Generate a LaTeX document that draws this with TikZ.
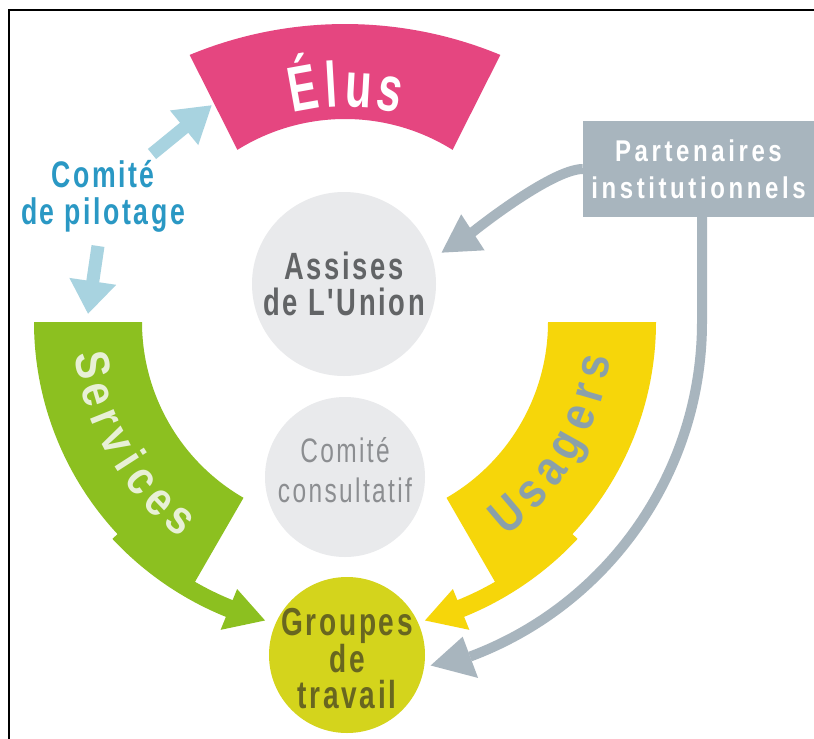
\documentclass[tikz,border=0pt]{standalone}
\usepackage{fontspec}
\setmainfont{Liberation Sans}
\newfontfamily\cnd{Liberation Sans}[FakeStretch=0.72,LetterSpace=7]
\newfontfamily\cndp{Liberation Sans}[FakeStretch=0.8,LetterSpace=12]
\newfontfamily\cndn{Liberation Sans}[FakeStretch=0.85]
\newfontfamily\cndx{Liberation Sans}[FakeStretch=0.68]
\usetikzlibrary{arrows.meta}
\definecolor{elusc}{RGB}{229,70,128}
\definecolor{servc}{RGB}{140,192,32}
\definecolor{usagc}{RGB}{246,214,10}
\definecolor{partc}{RGB}{168,181,190}
\definecolor{pilotc}{RGB}{168,211,224}
\definecolor{pilott}{RGB}{42,152,196}
\definecolor{circc}{RGB}{233,234,236}
\definecolor{assit}{RGB}{98,100,102}
\definecolor{consut}{RGB}{140,142,145}
\definecolor{groupc}{RGB}{212,212,28}
\definecolor{groupt}{RGB}{104,102,32}
\definecolor{servt}{RGB}{232,240,214}
\definecolor{usagt}{RGB}{138,160,170}
\begin{document}
\begin{tikzpicture}[x=1pt,y=1pt,
  txt/.style={inner sep=0pt, align=center},
  disc/.style={circle, fill=circc, inner sep=0pt},
  letter/.style={inner sep=0pt, anchor=base},
  grayconn/.style={draw=partc, line width=10pt},
  pilotarrow/.style={draw=pilotc, line width=13pt},
]
\fill[white] (0,0) rectangle (814,-739);
\useasboundingbox (0,0) rectangle (814,-739);
\draw[line width=2pt] (9,-739) -- (9,-10) -- (814,-10);

% Elus band
\fill[elusc] (345,-430) ++(112.5:406) arc[start angle=112.5,end angle=67.5,radius=406]
  -- ([shift={(345,-322)}]58:203) arc[start angle=58,end angle=122,radius=203] -- cycle;
\foreach \a/\l [count=\i] in {100.2/É,93.3/l,86.7/u,78.9/s}
  \node[letter, text=white, font={\cndx\bfseries\fontsize{64}{64}\selectfont}, rotate=\a-90]
    (elus\i) at ([shift={(345,-322)}]\a:215) {\l};

\begin{scope}[shift={(345,-322)}]
  % Services band
  \fill[servc] (180:311) arc[start angle=180,end angle=223,radius=311] -- (223:318)
    arc[start angle=223,end angle=248,radius=318] -- (248:332) -- (255:309) -- (248:288)
    -- (248:300) arc[start angle=248,end angle=240,radius=300] -- (240:203)
    arc[start angle=240,end angle=180,radius=203] -- cycle;
  % Usagers band
  \fill[usagc] (0:311) arc[start angle=0,end angle=-43,radius=311] -- (-43:318)
    arc[start angle=-43,end angle=-68,radius=318] -- (-68:332) -- (-75:309) -- (-68:288)
    -- (-68:300) arc[start angle=-68,end angle=-60,radius=300] -- (-60:203)
    arc[start angle=-60,end angle=0,radius=203] -- cycle;
  \foreach \a/\l [count=\i] in {189.8/S,196.4/e,201.9/r,207.5/v,212.7/i,217.9/c,224.1/e,230.2/s}
    \node[letter, text=servt, font={\cndn\bfseries\fontsize{48}{48}\selectfont}, rotate=\a+90]
      (serv\i) at (\a:272) {\l};
  \foreach \a/\l [count=\i] in {-49.7/U,-42.5/s,-35.9/a,-29.1/g,-22.2/e,-16.2/r,-10.2/s}
    \node[letter, text=usagt, font={\cndn\bfseries\fontsize{49}{49}\selectfont}, rotate=\a+90]
      (usag\i) at (\a:268) {\l};
\end{scope}

% circles
\node[disc, minimum size=184pt, text=assit, align=center,
  font={\cnd\bfseries\fontsize{38}{36}\selectfont}] (assises) at (344,-284) {Assises\\de L'Union};
\node[disc, minimum size=160pt] (consult) at (345,-477) {};
\node[txt, text=consut, font={\cnd\fontsize{34}{40}\selectfont}] (consultT) at (345,-470.5) {Comité\\consultatif};
\node[circle, fill=groupc, inner sep=0pt, minimum size=156pt] (groupes) at (347,-655) {};
\node[txt, text=groupt, font={\cnd\bfseries\fontsize{39}{36.5}\selectfont}] (groupesT) at (347,-659) {Groupes\\de\\travail};

% Partenaires box
\node[fill=partc, minimum width=231pt, minimum height=96pt, inner sep=0pt, text=white, align=center,
  font={\cndp\bfseries\fontsize{30}{37}\selectfont}] (part) at (698.5,-169) {Partenaires\\institutionnels};

% gray connectors
\coordinate (atip) at (441,-253);
\draw[grayconn, -{Triangle[length=38pt,width=40pt]}] (part.west) to[out=180,in=33,looseness=0.5] (atip);
\draw[grayconn] ([xshift=3.5pt]part.south) -- ++(0,-105) arc[start angle=0,end angle=-69.5,radius=357];
\begin{scope}[shift={(345,-322)}]
  \fill[partc] (-69.5:336) -- (-76:354) -- (-69.5:380) -- cycle;
\end{scope}

% Comite de pilotage
\node[txt, text=pilott, font={\cnd\bfseries\fontsize{37}{37}\selectfont}] (pilot) at (103,-196) {Comité\\de pilotage};
\coordinate (pu1) at (152,-154);
\coordinate (pu2) at (212,-105);
\coordinate (pd1) at (98,-246);
\coordinate (pd2) at (88,-314);
\draw[pilotarrow, -{Triangle[length=36pt,width=42pt]}] (pu1) -- (pu2);
\draw[pilotarrow, -{Triangle[length=33pt,width=45pt]}] (pd1) -- (pd2);
\end{tikzpicture}
\end{document}
